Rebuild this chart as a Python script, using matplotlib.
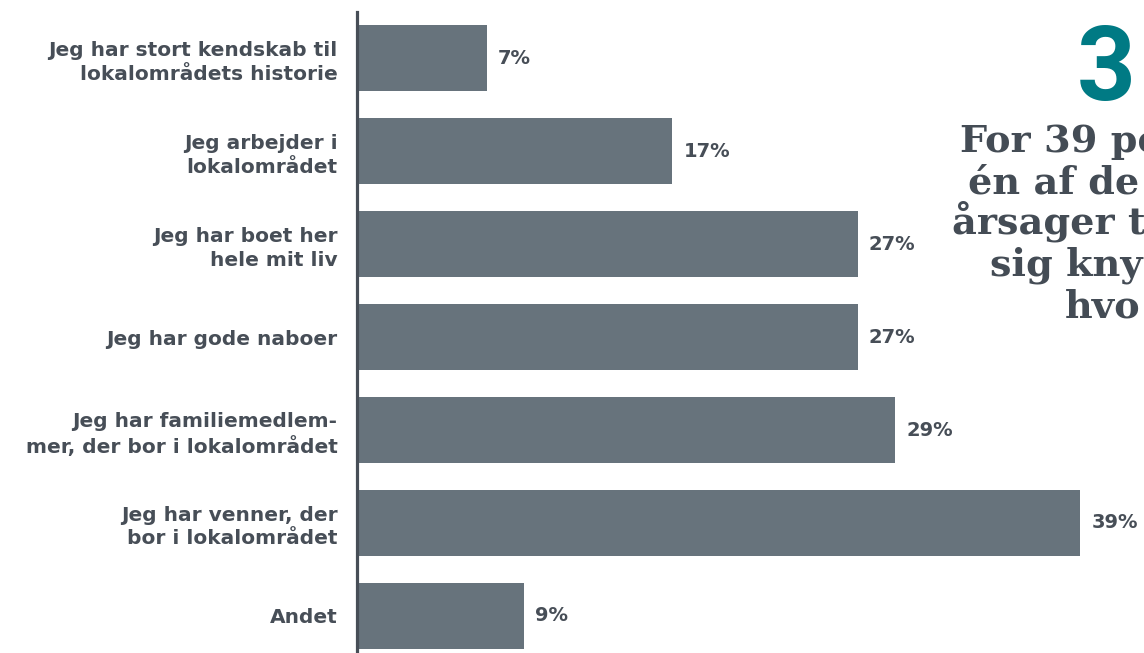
import matplotlib
matplotlib.use("Agg")
import matplotlib.pyplot as plt
import numpy as np

labels = ["Jeg har stort kendskab til\nlokalområdets historie",
          "Jeg arbejder i\nlokalområdet",
          "Jeg har boet her\nhele mit liv",
          "Jeg har gode naboer",
          "Jeg har familiemedlem-\nmer, der bor i lokalområdet",
          "Jeg har venner, der\nbor i lokalområdet",
          "Andet"]
values = [7, 17, 27, 27, 29, 39, 9]

# headline on the right is cut off by the image edge in the source
headline = ["For 39 pe", "én af de", "årsager t", "sig kny", "hvo"]
headline_x = [960, 968, 952, 990, 1065]

bar_col = "#67737c"
txt_col = "#474e57"
W, H = 1144, 653

fig = plt.figure(figsize=(W / 100, H / 100), dpi=100)
ax = fig.add_axes([357 / W, 0, (W - 357) / W, 641 / H])

y = np.arange(len(values))
ax.barh(y, values, height=0.71, color=bar_col)
ax.set_xlim(0, (W - 357) / 18.55)
ax.set_ylim(6.398, -0.495)

ax.set_yticks(y)
ax.set_yticklabels(labels, fontsize=14.5, fontweight="bold", color=txt_col,
                   family="DejaVu Sans", linespacing=1.3)
ax.tick_params(axis="y", length=0, pad=14)
ax.set_xticks([])
for s in ["top", "right", "bottom"]:
    ax.spines[s].set_visible(False)
ax.spines["left"].set_linewidth(2.3)
ax.spines["left"].set_color(txt_col)

for yi, v in zip(y, values):
    ax.text(v + 0.6, yi, f"{v}%", va="center", ha="left", fontsize=14,
            fontweight="bold", color=txt_col, family="DejaVu Sans")

fig.text(1077 / W, 1 - 100 / H, "3", fontsize=74, fontweight="bold",
         color="#007a84", family="Roboto", ha="left", va="baseline")
line_y = [152, 193, 234, 276, 318]
for t, lx, ly in zip(headline, headline_x, line_y):
    fig.text(lx / W, 1 - ly / H, t, fontsize=27.5, fontweight="bold",
             color="#444c55", family="DejaVu Serif", ha="left", va="baseline")

fig.savefig("out.png", dpi=100)
